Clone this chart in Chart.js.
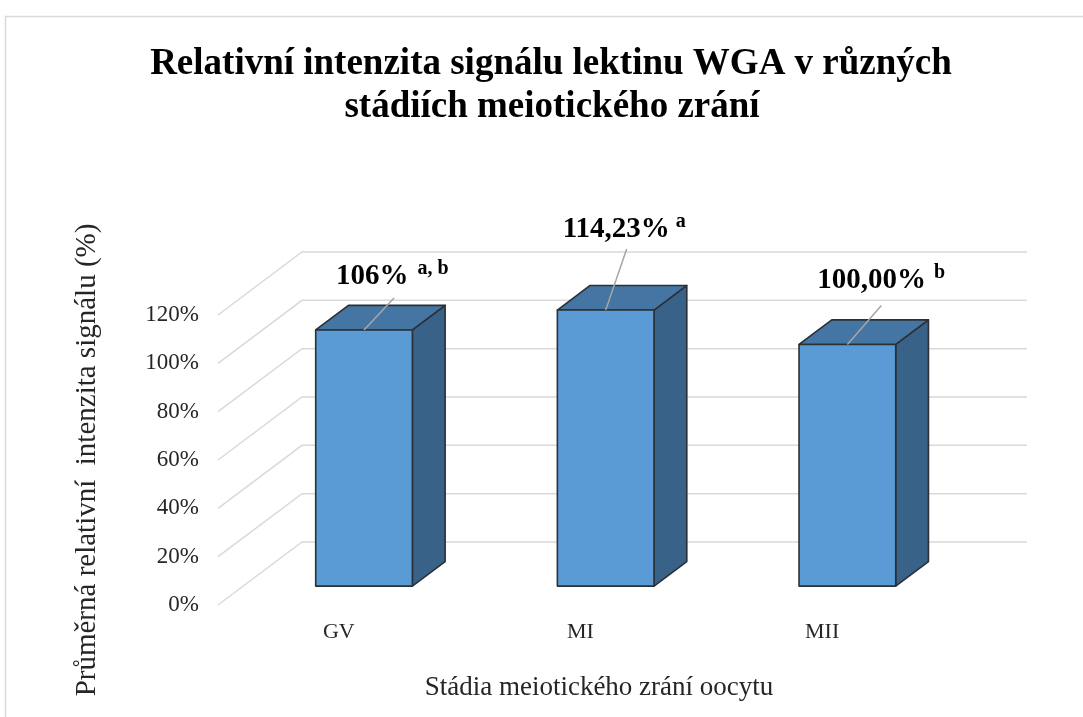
<!DOCTYPE html>
<html>
<head>
<meta charset="utf-8">
<script src="https://cdn.jsdelivr.net/npm/chart.js@4/dist/chart.umd.min.js"></script>
<style>
  html, body { margin: 0; padding: 0; background: #fff; }
</style>
</head>
<body>
<canvas id="myChart" width="1083" height="717"></canvas>
<script>
const stages = ['GV', 'MI', 'MII'];
const intensity = [106, 114.23, 100];
const valueLabels = ['106%', '114,23%', '100,00%'];
const significance = ['a, b', 'a', 'b'];

const chartTitle = ['Relativní intenzita signálu lektinu WGA v různých', 'stádiích meiotického zrání'];
const xTitle = 'Stádia meiotického zrání oocytu';
const yTitle = 'Průměrná relativní  intenzita signálu (%)';

const SERIF = '"Liberation Serif", "Times New Roman", serif';
const DEPTH = { x: 84, y: -63 };      // floor depth of the 3d box
const BAR_FRONT = 0.3, BAR_BACK = 0.69;
// data label placement, relative to the front top edge of each bar
const labelPos = [
  { tx: -28, ty: -46, lx: 30, ly: -32, gap: 9 },
  { tx: -43, ty: -73, lx: 21, ly: -61, gap: 6 },
  { tx: -30, ty: -56, lx: 34, ly: -39, gap: 8 }
];

function poly(ctx, pts, fill) {
  ctx.beginPath();
  ctx.moveTo(pts[0][0], pts[0][1]);
  for (let k = 1; k < pts.length; k++) ctx.lineTo(pts[k][0], pts[k][1]);
  ctx.closePath();
  ctx.fillStyle = fill;
  ctx.fill();
  ctx.stroke();
}

const box3d = {
  id: 'box3d',
  beforeDraw(chart) {
    const ctx = chart.ctx;
    ctx.save();
    ctx.strokeStyle = '#d9d9d9';
    ctx.lineWidth = 1.5;
    ctx.strokeRect(5.5, 16.5, 1200, 800);
    ctx.restore();
  },
  beforeDatasetsDraw(chart) {
    const { ctx, chartArea: a, scales: { y } } = chart;
    ctx.save();
    ctx.strokeStyle = '#d9d9d9';
    ctx.lineWidth = 1.5;
    y.ticks.forEach(t => {
      const py = y.getPixelForValue(t.value);
      ctx.beginPath();
      ctx.moveTo(a.left, py);
      ctx.lineTo(a.left + DEPTH.x, py + DEPTH.y);
      ctx.lineTo(a.right + DEPTH.x, py + DEPTH.y);
      ctx.stroke();
    });
    ctx.restore();
  },
  afterDatasetsDraw(chart) {
    const ctx = chart.ctx;
    const meta = chart.getDatasetMeta(0);
    const fx = DEPTH.x * BAR_FRONT, fy = DEPTH.y * BAR_FRONT;
    const dx = DEPTH.x * (BAR_BACK - BAR_FRONT), dy = DEPTH.y * (BAR_BACK - BAR_FRONT);
    ctx.save();
    meta.data.forEach((bar, i) => {
      const { x, y, base, width } = bar.getProps(['x', 'y', 'base', 'width'], true);
      const L = x - width / 2 + fx, R = x + width / 2 + fx;
      const T = y + fy, B = base + fy;
      ctx.strokeStyle = '#2b3036';
      ctx.lineWidth = 1.6;
      ctx.lineJoin = 'round';
      poly(ctx, [[R, T], [R + dx, T + dy], [R + dx, B + dy], [R, B]], '#386288');
      poly(ctx, [[L, T], [L + dx, T + dy], [R + dx, T + dy], [R, T]], '#4475a3');
      poly(ctx, [[L, T], [R, T], [R, B], [L, B]], '#5b9bd5');

      // data label with leader line
      const p = labelPos[i];
      const cx = (L + R) / 2;
      ctx.strokeStyle = '#a6a6a6';
      ctx.lineWidth = 1.5;
      ctx.beginPath();
      ctx.moveTo(cx, T);
      ctx.lineTo(cx + p.lx, T + p.ly);
      ctx.stroke();

      ctx.fillStyle = '#000';
      ctx.textAlign = 'left';
      ctx.textBaseline = 'alphabetic';
      ctx.font = 'bold 29px ' + SERIF;
      ctx.fillText(valueLabels[i], cx + p.tx, T + p.ty);
      const w = ctx.measureText(valueLabels[i]).width;
      ctx.font = 'bold 20px ' + SERIF;
      ctx.fillText(significance[i], cx + p.tx + w + p.gap, T + p.ty - 10);
    });
    ctx.restore();
  },
  afterDraw(chart) {
    const ctx = chart.ctx;
    ctx.save();
    ctx.fillStyle = '#000';
    ctx.textAlign = 'center';
    ctx.textBaseline = 'alphabetic';
    ctx.font = 'bold 37px ' + SERIF;
    ctx.fillText(chartTitle[0], 551, 74);
    ctx.fillText(chartTitle[1], 552, 117);
    ctx.fillStyle = '#262626';
    ctx.font = '27px ' + SERIF;
    ctx.textBaseline = 'middle';
    ctx.fillText(xTitle, 599, 688);
    ctx.restore();
  }
};

new Chart(document.getElementById('myChart'), {
  type: 'bar',
  data: {
    labels: stages,
    datasets: [{
      data: intensity,
      backgroundColor: 'rgba(0,0,0,0)',
      borderWidth: 0,
      categoryPercentage: 1,
      barPercentage: 0.4
    }]
  },
  options: {
    responsive: false,
    animation: false,
    layout: { padding: { top: 315, right: 140, left: 0, bottom: 0 } },
    plugins: {
      legend: { display: false },
      tooltip: { enabled: false }
    },
    scales: {
      x: {
        grid: { display: false, drawTicks: false },
        border: { display: false },
        ticks: { color: '#262626', font: { family: SERIF, size: 22 }, padding: 14 },
        afterFit(scale) { scale.height = 112; }
      },
      y: {
        min: 0,
        max: 120,
        grid: { display: false, drawTicks: false },
        border: { display: false },
        ticks: {
          stepSize: 20,
          color: '#262626',
          font: { family: SERIF, size: 23 },
          padding: 19,
          callback: v => v + '%'
        },
        title: {
          display: true,
          text: yTitle,
          color: '#262626',
          font: { family: SERIF, size: 29 },
          padding: { top: 70, bottom: 0 }
        },
        afterFit(scale) { scale.width = 218; }
      }
    }
  },
  plugins: [box3d]
});
</script>
</body>
</html>
